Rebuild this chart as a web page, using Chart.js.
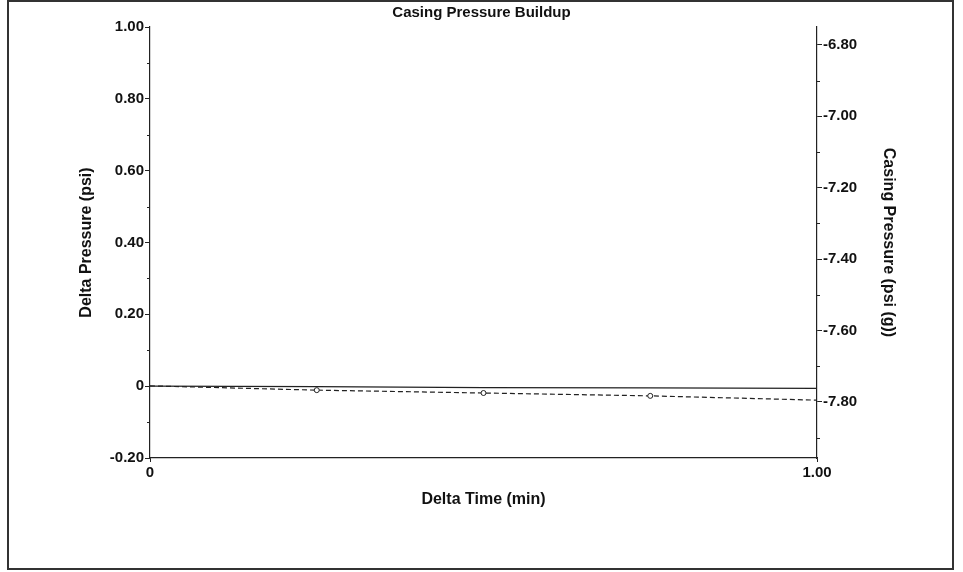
<!DOCTYPE html>
<html>
<head>
<meta charset="utf-8">
<title>Casing Pressure Buildup</title>
<script src="https://cdn.jsdelivr.net/npm/chart.js@4.4.1/dist/chart.umd.min.js"></script>
<style>
    html, body { margin: 0; padding: 0; background: #fff; }
    #wrap { position: relative; width: 963px; height: 572px; }
</style>
</head>
<body>
<div id="wrap"><canvas id="buildupChart" width="963" height="572"></canvas></div>
<script>
// Chart data
const deltaTime = [0, 0.25, 0.5, 0.75, 1.0];                         // min
const deltaPressure = [0, -0.001, -0.004, -0.005, -0.006];            // psi (left axis)
const casingPressure = [-7.755, -7.767, -7.775, -7.783, -7.795];      // psi(g) (right axis)
const casingMarkerRadius = [0, 2.5, 2.5, 2.5, 0];

const leftTicks = [1.0, 0.8, 0.6, 0.4, 0.2, 0, -0.2];
const leftMinorTicks = [0.9, 0.7, 0.5, 0.3, 0.1, -0.1];
const rightTicks = [-6.8, -7.0, -7.2, -7.4, -7.6, -7.8];
const rightMinorTicks = [-6.9, -7.1, -7.3, -7.5, -7.7, -7.9];
const xTicks = [0, 1.0];

const fontFamily = 'Arial, "Liberation Sans", sans-serif';
const tickFont = { family: fontFamily, size: 15, weight: 'bold' };
const titleFont = { family: fontFamily, size: 16, weight: 'bold' };

/**
 * Thin frame round the whole picture, like the printed report
 */
const framePlugin = {
    id: 'frame',
    beforeDraw(chart) {
        const ctx = chart.ctx;
        ctx.save();
        ctx.fillStyle = '#fff';
        ctx.fillRect(0, 0, chart.width, chart.height);
        ctx.strokeStyle = '#333';
        ctx.lineWidth = 2;
        ctx.strokeRect(8, 1, 945, 568);
        ctx.restore();
    }
};

/**
 * Short unlabelled ticks between the labelled ones on both value axes
 */
const minorTickPlugin = {
    id: 'minorTicks',
    afterDraw(chart) {
        const ctx = chart.ctx;
        const left = chart.scales.y;
        const right = chart.scales.y1;
        ctx.save();
        ctx.strokeStyle = '#222';
        ctx.lineWidth = 1;
        ctx.beginPath();
        leftMinorTicks.forEach(v => {
            const py = Math.round(left.getPixelForValue(v)) + 0.5;
            ctx.moveTo(left.right - 3, py);
            ctx.lineTo(left.right, py);
        });
        rightMinorTicks.forEach(v => {
            const py = Math.round(right.getPixelForValue(v)) + 0.5;
            ctx.moveTo(right.left, py);
            ctx.lineTo(right.left + 3, py);
        });
        ctx.stroke();
        ctx.restore();
    }
};

function fixedWidth(w) {
    return function(scale) { scale.width = w; };
}

function toPoints(xs, ys) {
    return xs.map((x, i) => ({ x: x, y: ys[i] }));
}

function initializeBuildupChart() {
    const ctx = document.getElementById('buildupChart');
    if (!ctx) return;

    new Chart(ctx.getContext('2d'), {
        type: 'line',
        data: {
            datasets: [{
                label: 'Delta Pressure',
                data: toPoints(deltaTime, deltaPressure),
                yAxisID: 'y',
                borderColor: '#222',
                borderWidth: 1.2,
                pointRadius: 0,
                fill: false,
                tension: 0
            }, {
                label: 'Casing Pressure',
                data: toPoints(deltaTime, casingPressure),
                yAxisID: 'y1',
                borderColor: '#222',
                borderWidth: 1.2,
                borderDash: [5, 3],
                pointRadius: casingMarkerRadius,
                pointBorderWidth: 1,
                pointBorderColor: '#222',
                pointBackgroundColor: '#fff',
                fill: false,
                tension: 0
            }]
        },
        options: {
            responsive: false,
            animation: false,
            layout: { padding: 0 },
            plugins: {
                legend: { display: false },
                tooltip: { enabled: false },
                title: {
                    display: true,
                    text: 'Casing Pressure Buildup',
                    color: '#111',
                    font: tickFont,
                    padding: { top: 4, bottom: 5 }
                }
            },
            scales: {
                x: {
                    type: 'linear',
                    min: 0,
                    max: 1,
                    afterFit: function(scale) { scale.height = 114; },
                    afterBuildTicks: function(scale) {
                        scale.ticks = xTicks.map(v => ({ value: v }));
                    },
                    grid: { display: true, drawOnChartArea: false, color: '#222', tickLength: 4 },
                    border: { display: true, color: '#222', width: 1.2 },
                    ticks: {
                        color: '#111',
                        font: tickFont,
                        padding: 2,
                        maxRotation: 0,
                        callback: function(value) {
                            return value === 0 ? '0' : value.toFixed(2);
                        }
                    },
                    title: {
                        display: true,
                        text: 'Delta Time (min)',
                        color: '#111',
                        font: titleFont,
                        padding: { top: 0, bottom: 62.4 }
                    }
                },
                y: {
                    type: 'linear',
                    position: 'left',
                    min: -0.2,
                    max: 1.0,
                    afterFit: fixedWidth(150),
                    afterBuildTicks: function(scale) {
                        scale.ticks = leftTicks.map(v => ({ value: v }));
                    },
                    grid: { display: true, drawOnChartArea: false, color: '#222', tickLength: 5 },
                    border: { display: true, color: '#222', width: 1.2 },
                    ticks: {
                        color: '#111',
                        font: tickFont,
                        padding: 1,
                        callback: function(value) {
                            return Math.abs(value) < 1e-9 ? '0' : value.toFixed(2);
                        }
                    },
                    title: {
                        display: true,
                        text: 'Delta Pressure (psi)',
                        color: '#111',
                        font: titleFont,
                        padding: { top: 77.4, bottom: 0 }
                    }
                },
                y1: {
                    type: 'linear',
                    position: 'right',
                    min: -7.957,
                    max: -6.75,
                    afterFit: fixedWidth(146),
                    afterBuildTicks: function(scale) {
                        scale.ticks = rightTicks.map(v => ({ value: v }));
                    },
                    grid: { display: true, drawOnChartArea: false, color: '#222', tickLength: 5 },
                    border: { display: true, color: '#222', width: 1.2 },
                    ticks: {
                        color: '#111',
                        font: tickFont,
                        padding: 1,
                        callback: function(value) {
                            return value.toFixed(2);
                        }
                    },
                    title: {
                        display: true,
                        text: 'Casing Pressure (psi (g))',
                        color: '#111',
                        font: titleFont,
                        padding: { top: 65.4, bottom: 0 }
                    }
                }
            }
        },
        plugins: [framePlugin, minorTickPlugin]
    });
}

initializeBuildupChart();
</script>
</body>
</html>
